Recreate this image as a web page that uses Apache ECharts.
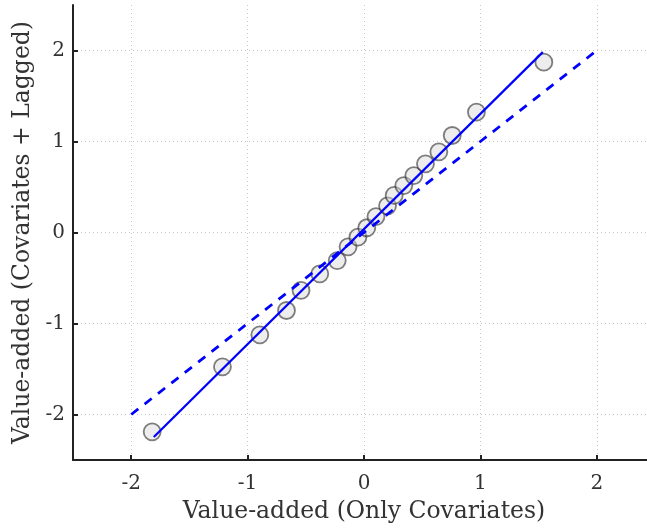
<!DOCTYPE html>
<html>
<head>
<meta charset="utf-8">
<script src="https://cdn.jsdelivr.net/npm/echarts@6/dist/echarts.min.js"></script>
<style>
  html, body { margin: 0; padding: 0; background: #fff; }
  #chart { width: 647px; height: 531px; }
</style>
</head>
<body>
<div id="chart"></div>
<script>
// value-added estimates
const onlyCov = [-1.82, -1.216, -0.895, -0.666, -0.541, -0.380, -0.230, -0.137, -0.052, 0.024,
  0.103, 0.202, 0.259, 0.342, 0.428, 0.528, 0.643, 0.758, 0.966, 1.545]
const covLagged = [-2.19, -1.476, -1.124, -0.857, -0.635, -0.454, -0.308, -0.157, -0.051, 0.052,
  0.175, 0.293, 0.407, 0.516, 0.626, 0.755, 0.887, 1.066, 1.323, 1.872]
// fitted line end points
const fitX = [-1.806, 1.536]
const fitY = [-2.248, 1.982]
// 45 degree reference line
const refX = [-2, 2]
const refY = [-2, 2]
const tickValues = [-2, -1, 0, 1, 2]

const font = 'DejaVu Serif'
const textColor = '#333'

const myChart = echarts.init(document.getElementById('chart'))

function axisBase(name) {
  return {
    type: 'value',
    min: -2.5,
    max: 2.5,
    name: name,
    nameLocation: 'middle',
    nameMoveOverlap: false,
    nameTextStyle: { color: textColor, fontFamily: font, fontSize: 23.5 },
    axisLine: { show: true, onZero: false, lineStyle: { color: '#222', width: 2 } },
    axisTick: { show: true, inside: true, length: 5, customValues: tickValues, lineStyle: { color: '#222', width: 2 } },
    axisLabel: { customValues: tickValues, color: textColor, fontFamily: font, fontSize: 20 },
    splitLine: { show: true, lineStyle: { color: '#c8c8c8', type: [1, 3], width: 1 } }
  }
}

const xAxis = axisBase('Value-added (Only Covariates)')
xAxis.nameGap = 40
xAxis.axisLabel.margin = 14
const yAxis = axisBase('Value-added (Covariates + Lagged)')
yAxis.nameGap = 38
yAxis.nameRotate = 90
yAxis.axisLabel.margin = 8

const options = {
  animation: false,
  backgroundColor: '#fff',
  grid: { left: 73, right: -8, top: 5, bottom: 71, containLabel: false, outerBoundsMode: 'none' },
  xAxis: xAxis,
  yAxis: yAxis,
  series: [
    {
      type: 'scatter',
      symbol: 'circle',
      symbolSize: 17,
      z: 2,
      itemStyle: { color: 'rgba(215,215,215,0.55)', borderColor: 'rgba(30,30,30,0.7)', borderWidth: 1.8 },
      data: onlyCov.map((v, i) => [v, covLagged[i]])
    },
    {
      type: 'line',
      showSymbol: false,
      z: 3,
      lineStyle: { color: '#0000ff', width: 2.2 },
      data: fitX.map((v, i) => [v, fitY[i]])
    },
    {
      type: 'line',
      showSymbol: false,
      z: 3,
      lineStyle: { color: '#0000ff', width: 2.8, type: [9, 8] },
      data: refX.map((v, i) => [v, refY[i]])
    }
  ]
}
myChart.setOption(options)
</script>
</body>
</html>
